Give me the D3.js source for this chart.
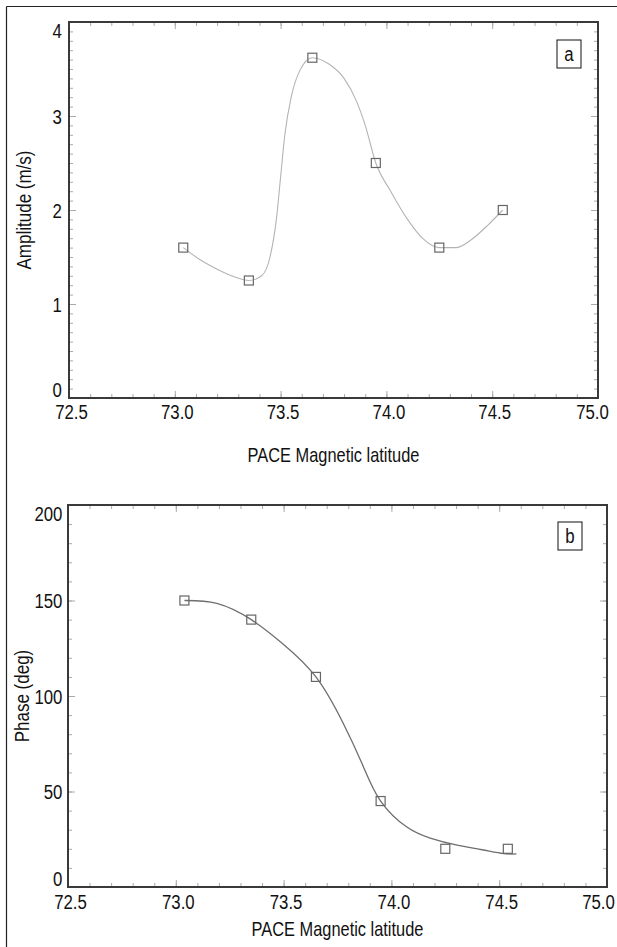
<!DOCTYPE html>
<html>
<head>
<meta charset="utf-8">
<script src="https://cdn.jsdelivr.net/npm/d3@7"></script>
<style>
  body { margin: 0; background: #fff; }
  svg { display: block; }
</style>
</head>
<body>
<div id="chart"></div>
<script>
// Panel a: amplitude
var latA = [73.04, 73.35, 73.65, 73.95, 74.25, 74.55];
var ampA = [1.6, 1.25, 3.62, 2.5, 1.6, 2.0];
// fitted curve
var fitLatA = [73.04, 73.12, 73.2, 73.28, 73.35, 73.41, 73.45, 73.48, 73.5, 73.52, 73.55, 73.59, 73.65, 73.73, 73.8, 73.86, 73.9, 73.95, 74.02, 74.1, 74.17, 74.25, 74.33, 74.41, 74.48, 74.55];
var fitAmpA = [1.6, 1.47, 1.37, 1.29, 1.25, 1.3, 1.5, 1.9, 2.35, 2.8, 3.2, 3.48, 3.62, 3.55, 3.4, 3.15, 2.9, 2.5, 2.2, 1.9, 1.7, 1.6, 1.6, 1.7, 1.84, 2.0];

// Panel b: phase
var latB = [73.04, 73.35, 73.65, 73.95, 74.25, 74.54];
var phaseB = [150, 140, 110, 45, 20, 20];
var fitLatB = [73.04, 73.19, 73.35, 73.5, 73.65, 73.777, 73.87, 73.95, 74.07, 74.18, 74.3, 74.42, 74.52, 74.58];
var fitPhaseB = [150, 148.5, 140, 127, 110, 85.6, 63, 45, 31.5, 25.6, 22, 19.5, 17.5, 17.3];

// axes
var xTicks = [72.5, 73.0, 73.5, 74.0, 74.5, 75.0];
var ampTicks = [0, 1, 2, 3, 4];
var phaseTicks = [0, 50, 100, 150, 200];

var W = 617, H = 947;
var font = '"Liberation Sans", Arial, sans-serif';
var squeeze = 0.8;   // condensed look of the original lettering

var svg = d3.select('#chart').append('svg')
    .attr('width', W)
    .attr('height', H);

// outer figure border (top and left only, the rest is cropped)
svg.append('line').attr('x1', 6.5).attr('x2', W).attr('y1', 6.5).attr('y2', 6.5)
    .attr('stroke', '#222').attr('stroke-width', 1.2);
svg.append('line').attr('x1', 6.5).attr('x2', 6.5).attr('y1', 6.5).attr('y2', H)
    .attr('stroke', '#222').attr('stroke-width', 1.2);

function label(sel, size) {
    return sel.style('font-family', font).style('font-size', size + 'px').attr('fill', '#111');
}

function drawPanel(p) {
    var x = d3.scaleLinear().domain([72.5, 75.0]).range([p.left, p.right]);
    var y = d3.scaleLinear().domain(p.yDomain).range([p.bottom, p.top]);
    var g = svg.append('g');

    var xMinor = d3.range(72.5, 75.001, 0.1);
    var yMinor = d3.range(p.yDomain[0], p.yDomain[1] + 1e-6, p.yMinorStep);

    // minor ticks on all four sides, pointing inwards
    function ticksOnly(axis, tx, ty) {
        g.append('g')
            .attr('transform', 'translate(' + tx + ',' + ty + ')')
            .call(axis.tickSizeOuter(0).tickFormat(''))
            .call(function(s) {
                s.select('.domain').remove();
                s.selectAll('line').attr('stroke', '#aaa');
            });
    }
    ticksOnly(d3.axisBottom(x).tickValues(xMinor).tickSize(-4), 0, p.bottom);
    ticksOnly(d3.axisTop(x).tickValues(xMinor).tickSize(-4), 0, p.top);
    ticksOnly(d3.axisLeft(y).tickValues(yMinor).tickSize(-4), p.left, 0);
    ticksOnly(d3.axisRight(y).tickValues(yMinor).tickSize(-4), p.right, 0);
    ticksOnly(d3.axisTop(x).tickValues(xTicks).tickSize(-7), 0, p.top);
    ticksOnly(d3.axisRight(y).tickValues(p.yTicks).tickSize(-7), p.right, 0);

    // labelled axes
    var xAxis = g.append('g')
        .attr('transform', 'translate(0,' + p.bottom + ')')
        .call(d3.axisBottom(x).tickValues(xTicks).tickSize(-7).tickSizeOuter(0)
            .tickPadding(p.xPad).tickFormat(d3.format('.1f')));
    xAxis.select('.domain').remove();
    xAxis.selectAll('line').attr('stroke', '#aaa');
    label(xAxis.selectAll('text'), 21)
        .attr('transform', 'scale(' + squeeze + ',1)')
        .attr('dx', function(d, i) { return (i === xTicks.length - 1 ? p.lastDx : 2) / squeeze; });

    var yAxis = g.append('g')
        .attr('transform', 'translate(' + p.left + ',0)')
        .call(d3.axisLeft(y).tickValues(p.yTicks).tickSize(-7).tickSizeOuter(0)
            .tickPadding(p.yPad).tickFormat(d3.format('d')));
    yAxis.select('.domain').remove();
    yAxis.selectAll('line').attr('stroke', '#aaa');
    label(yAxis.selectAll('text'), 21)
        .attr('transform', 'scale(' + squeeze + ',1)')
        .attr('dy', function(d, i) {
            if (i === 0) return '-0.05em';
            if (i === p.yTicks.length - 1) return '0.72em';
            return '0.35em';
        });

    // frame
    g.append('rect')
        .attr('x', p.left).attr('y', p.top)
        .attr('width', p.right - p.left).attr('height', p.bottom - p.top)
        .attr('fill', 'none').attr('stroke', '#3a3a3a').attr('stroke-width', 2);

    // curve
    var line = d3.line()
        .x(function(d) { return x(d[0]); })
        .y(function(d) { return y(d[1]); })
        .curve(p.curve);
    g.append('path')
        .datum(d3.zip(p.fitX, p.fitY))
        .attr('d', line)
        .attr('fill', 'none')
        .attr('stroke', p.curveColor)
        .attr('stroke-width', p.curveWidth);

    // square markers
    g.selectAll('rect.pt')
        .data(d3.zip(p.dataX, p.dataY))
        .enter().append('rect')
        .attr('class', 'pt')
        .attr('x', function(d) { return x(d[0]) - 4.5; })
        .attr('y', function(d) { return y(d[1]) - 4.5; })
        .attr('width', 9).attr('height', 9)
        .attr('fill', 'none')
        .attr('stroke', '#666')
        .attr('stroke-width', 1.2);

    // panel letter box
    g.append('rect')
        .attr('x', p.right - p.boxRight - 24).attr('y', p.top + p.boxTop)
        .attr('width', 24).attr('height', 28)
        .attr('fill', '#fff').attr('stroke', '#111').attr('stroke-width', 1);
    label(g.append('text'), 21)
        .attr('transform', 'translate(' + (p.right - p.boxRight - 12) + ',' + (p.top + p.boxTop + 21) + ') scale(' + squeeze + ',1)')
        .attr('text-anchor', 'middle')
        .text(p.letter);

    // axis titles
    label(g.append('text'), 20)
        .attr('transform', 'translate(' + (p.left + p.right) / 2 + ',' + p.xTitleY + ') scale(0.82,1)')
        .attr('text-anchor', 'middle')
        .text('PACE Magnetic latitude');
    label(g.append('text'), 20)
        .attr('transform', 'translate(' + p.yTitleX + ',' + (p.top + p.bottom) / 2 + ') rotate(-90) scale(0.85,1)')
        .attr('text-anchor', 'middle')
        .text(p.yTitle);
}

drawPanel({
    left: 69, right: 598, top: 22, bottom: 398,
    yDomain: [0, 4], yTicks: ampTicks, yMinorStep: 0.1,
    dataX: latA, dataY: ampA, fitX: fitLatA, fitY: fitAmpA,
    curve: d3.curveMonotoneX, curveColor: '#b4b4b4', curveWidth: 1.1,
    letter: 'a', boxRight: 17, boxTop: 18,
    xPad: 6, yPad: 9, lastDx: -6, xTitleY: 462, yTitle: 'Amplitude (m/s)', yTitleX: 31
});

drawPanel({
    left: 68, right: 607, top: 505, bottom: 887,
    yDomain: [0, 200], yTicks: phaseTicks, yMinorStep: 10,
    dataX: latB, dataY: phaseB, fitX: fitLatB, fitY: fitPhaseB,
    curve: d3.curveNatural, curveColor: '#6e6e6e', curveWidth: 1.3,
    letter: 'b', boxRight: 25, boxTop: 17,
    xPad: 7, yPad: 7, lastDx: -9, xTitleY: 936, yTitle: 'Phase (deg)', yTitleX: 29
});
</script>
</body>
</html>
